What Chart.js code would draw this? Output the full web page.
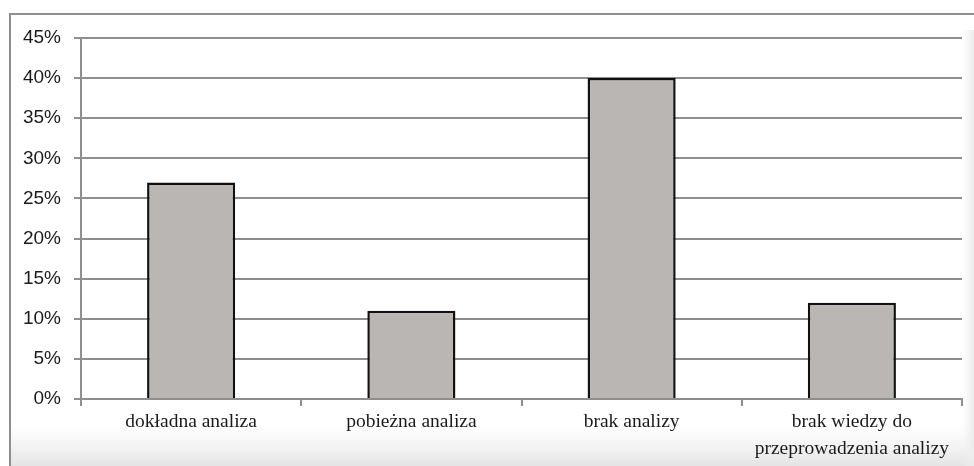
<!DOCTYPE html>
<html>
<head>
<meta charset="utf-8">
<script src="https://cdn.jsdelivr.net/npm/chart.js@4/dist/chart.umd.min.js"></script>
<style>
  html, body { margin: 0; padding: 0; background: #ffffff; }
  #wrap { width: 974px; height: 466px; position: relative; }
</style>
</head>
<body>
<div id="wrap"><canvas id="c" width="974" height="466"></canvas></div>
<script>
// Survey answers: how the analysis was carried out
const categories = [
  'dokładna analiza',
  'pobieżna analiza',
  'brak analizy',
  ['brak wiedzy do', 'przeprowadzenia analizy']
];
const shares = [27, 11, 40, 12];          // percent of respondents
const yTicks = [0, 5, 10, 15, 20, 25, 30, 35, 40, 45];

// Framed background with a faint shaded band along the bottom
const framePlugin = {
  id: 'frame',
  beforeDraw(chart) {
    const ctx = chart.ctx;
    const w = chart.width, h = chart.height;
    ctx.save();
    ctx.fillStyle = '#ffffff';
    ctx.fillRect(0, 0, w, h);
    const g = ctx.createLinearGradient(0, h - 40, 0, h);
    g.addColorStop(0, 'rgba(235,235,235,0)');
    g.addColorStop(1, 'rgba(228,228,228,1)');
    ctx.fillStyle = g;
    ctx.fillRect(10, h - 40, w - 10, 40);
    const g2 = ctx.createLinearGradient(w - 12, 0, w, 0);
    g2.addColorStop(0, 'rgba(240,240,240,0)');
    g2.addColorStop(1, 'rgba(236,236,236,1)');
    ctx.fillStyle = g2;
    ctx.fillRect(w - 12, 30, 12, h - 30);
    ctx.strokeStyle = '#8e8e8e';
    ctx.lineWidth = 2;
    ctx.beginPath();
    ctx.moveTo(10, h + 2);
    ctx.lineTo(10, 14);
    ctx.lineTo(w + 2, 14);
    ctx.stroke();
    ctx.restore();
  }
};

new Chart(document.getElementById('c'), {
  type: 'bar',
  data: {
    labels: categories,
    datasets: [{
      data: shares,
      backgroundColor: '#bab6b4',
      borderColor: '#111111',
      borderWidth: 2.5,
      borderSkipped: 'bottom',
      barPercentage: 0.4,
      categoryPercentage: 1.0
    }]
  },
  options: {
    responsive: false,
    animation: false,
    devicePixelRatio: 1,
    layout: { padding: { top: 38, right: 12, left: 0, bottom: 0 } },
    plugins: {
      legend: { display: false },
      tooltip: { enabled: false }
    },
    scales: {
      x: {
        offset: true,
        grid: {
          display: true,
          drawOnChartArea: false,
          drawTicks: true,
          tickLength: 7,
          color: '#8e8e8e',
          lineWidth: 2,
          offset: true
        },
        border: { display: true, color: '#8e8e8e', width: 2 },
        ticks: {
          color: '#1a1a1a',
          font: { family: '"Liberation Serif", "Times New Roman", serif', size: 19.5, lineHeight: 1.35 },
          padding: 3,
          maxRotation: 0,
          autoSkip: false
        },
        afterFit(scale) { scale.height = 67; }
      },
      y: {
        min: 0,
        max: 45,
        afterBuildTicks(scale) {
          scale.ticks = yTicks.map(v => ({ value: v }));
        },
        grid: {
          color: '#8e8e8e',
          lineWidth: 2,
          tickLength: 7,
          drawTicks: true
        },
        border: { display: true, color: '#8e8e8e', width: 2 },
        ticks: {
          color: '#1a1a1a',
          font: { family: '"Liberation Sans", Arial, sans-serif', size: 19 },
          padding: 13,
          callback: v => v + '%'
        },
        afterFit(scale) { scale.width = 81; }
      }
    }
  },
  plugins: [framePlugin]
});
</script>
</body>
</html>
